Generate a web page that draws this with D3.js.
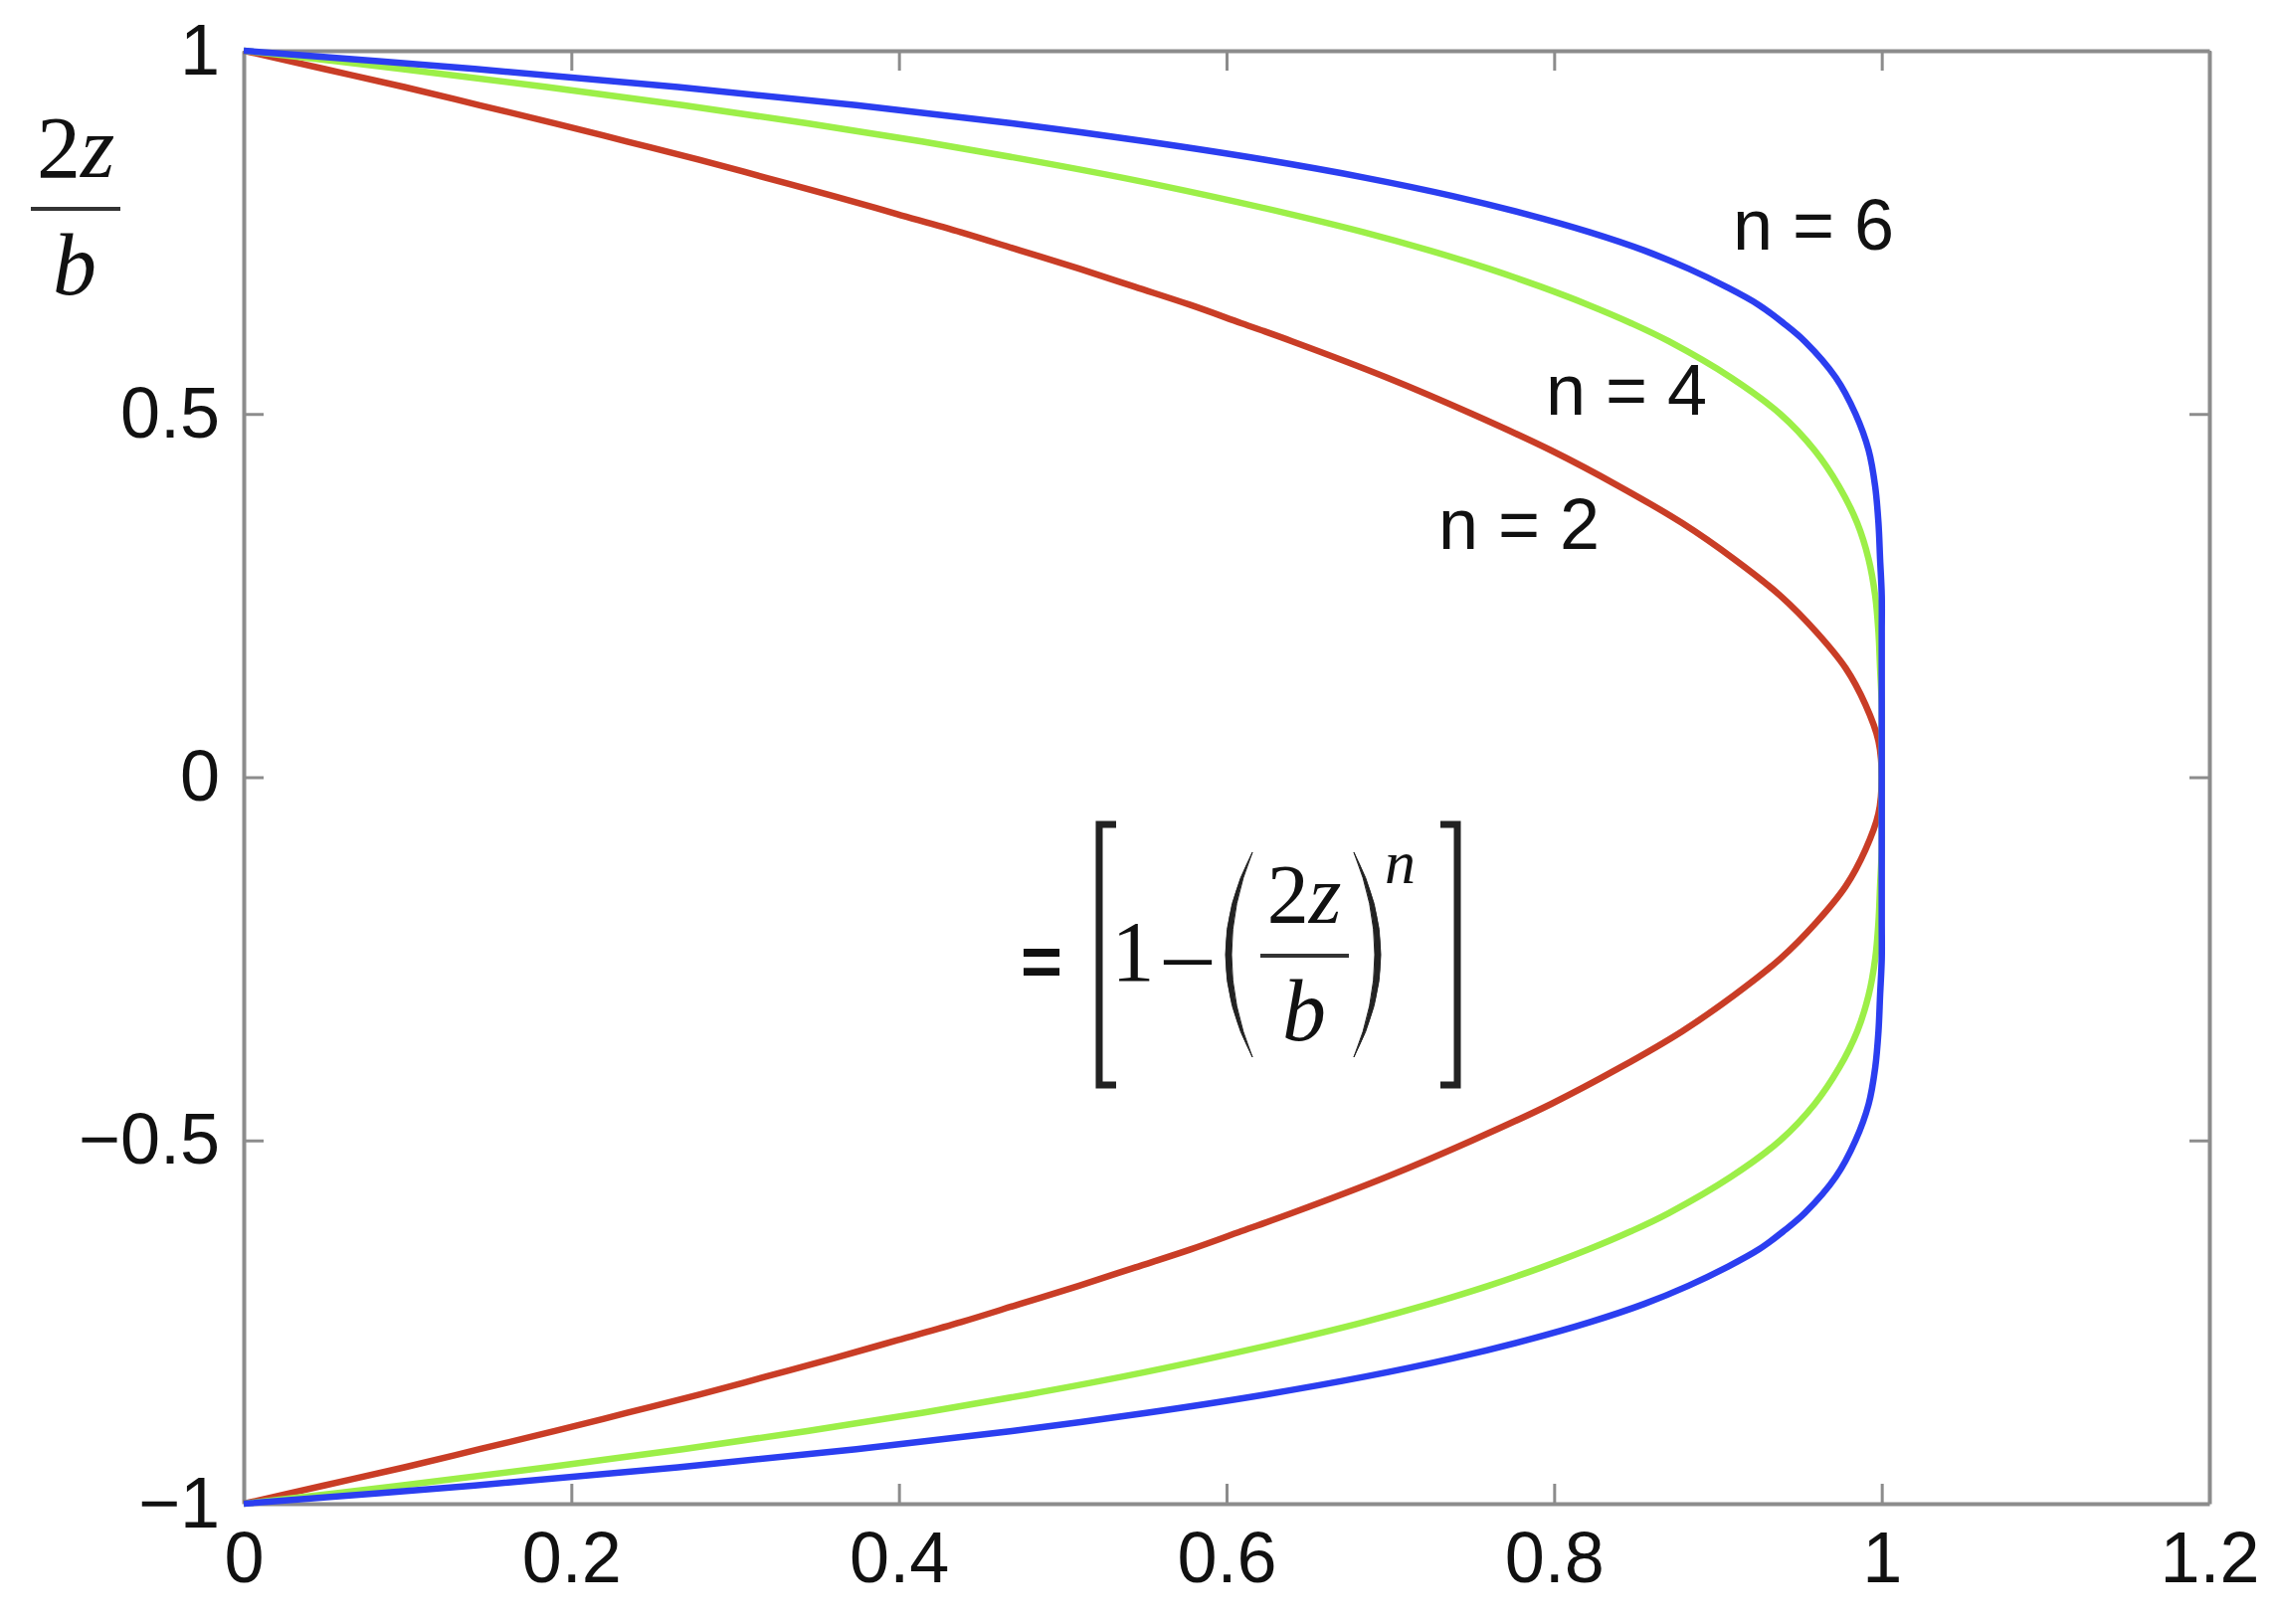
<!DOCTYPE html>
<html>
<head>
<meta charset="utf-8">
<script src="https://cdn.jsdelivr.net/npm/d3@7"></script>
<style>
	body { margin: 0; background: #fff; }
	.axis text { font-family: "Liberation Sans", Arial, sans-serif; font-size: 72px; fill: #111; }
	.axis path, .axis line { stroke: #8c8c8c; }
	.serif { font-family: "Liberation Serif", "Times New Roman", serif; fill: #111; }
	.lbl { font-family: "Liberation Sans", Arial, sans-serif; font-size: 72px; fill: #111; }
</style>
</head>
<body>
<div id="vis"></div>
<script>

var width = 2288,
	height = 1633;

// 2z/b positions
var zValues = [-1, -0.975, -0.95, -0.925, -0.9, -0.875, -0.85, -0.825, -0.8, -0.775, -0.75, -0.725, -0.7, -0.675, -0.65, -0.625, -0.6,
	-0.55, -0.5, -0.45, -0.4, -0.35, -0.3, -0.25, -0.2, -0.15, -0.1, -0.05, 0,
	0.05, 0.1, 0.15, 0.2, 0.25, 0.3, 0.35, 0.4, 0.45, 0.5, 0.55, 0.6,
	0.625, 0.65, 0.675, 0.7, 0.725, 0.75, 0.775, 0.8, 0.825, 0.85, 0.875, 0.9, 0.925, 0.95, 0.975, 1];

// profile value of each curve at those positions
var profileN2 = [0, 0.049, 0.098, 0.144, 0.19, 0.234, 0.278, 0.319, 0.36, 0.399, 0.438, 0.474, 0.51, 0.544, 0.578, 0.609, 0.64,
	0.698, 0.75, 0.798, 0.84, 0.878, 0.91, 0.938, 0.96, 0.978, 0.99, 0.998, 1,
	0.998, 0.99, 0.978, 0.96, 0.938, 0.91, 0.878, 0.84, 0.798, 0.75, 0.698, 0.64,
	0.609, 0.578, 0.544, 0.51, 0.474, 0.438, 0.399, 0.36, 0.319, 0.278, 0.234, 0.19, 0.144, 0.098, 0.049, 0];
var profileN4 = [0, 0.096, 0.185, 0.268, 0.344, 0.414, 0.478, 0.537, 0.59, 0.639, 0.684, 0.724, 0.76, 0.792, 0.821, 0.847, 0.87,
	0.908, 0.938, 0.959, 0.974, 0.985, 0.992, 0.996, 0.998, 0.999, 1, 1, 1,
	1, 1, 0.999, 0.998, 0.996, 0.992, 0.985, 0.974, 0.959, 0.938, 0.908, 0.87,
	0.847, 0.821, 0.792, 0.76, 0.724, 0.684, 0.639, 0.59, 0.537, 0.478, 0.414, 0.344, 0.268, 0.185, 0.096, 0];
var profileN6 = [0, 0.141, 0.265, 0.374, 0.469, 0.551, 0.623, 0.685, 0.738, 0.783, 0.822, 0.855, 0.882, 0.905, 0.925, 0.94, 0.953,
	0.972, 0.984, 0.992, 0.996, 0.998, 0.999, 1, 1, 1, 1, 1, 1,
	1, 1, 1, 1, 1, 0.999, 0.998, 0.996, 0.992, 0.984, 0.972, 0.953,
	0.94, 0.925, 0.905, 0.882, 0.855, 0.822, 0.783, 0.738, 0.685, 0.623, 0.551, 0.469, 0.374, 0.265, 0.141, 0];

var seriesNames = ["n = 2", "n = 4", "n = 6"];
var seriesColors = ["#c93d26", "#9cef48", "#2b3ef0"];

var xTicks = [0, 0.2, 0.4, 0.6, 0.8, 1, 1.2];
var xTickLabels = ["0", "0.2", "0.4", "0.6", "0.8", "1", "1.2"];
var yTicks = [-1, -0.5, 0, 0.5, 1];
var yTickLabels = ["\u22121", "\u22120.5", "0", "0.5", "1"];

var x = d3.scaleLinear().domain([0, 1.2]).range([245, 2221]),
	y = d3.scaleLinear().domain([-1, 1]).range([1512, 51]);

var svg = d3.select('#vis')
		.append('svg')
		.attr('width', width)
		.attr('height', height);

// box with inward ticks on all four sides
function styleAxis(g) {
	g.select('.domain').style('stroke-width', 4);
	g.selectAll('.tick line').style('stroke-width', 3);
}

svg.append('g')
	.attr('class', 'axis')
	.attr('transform', 'translate(0,' + y(-1) + ')')
	.call(d3.axisBottom(x).tickValues(xTicks).tickSizeInner(-20).tickSizeOuter(0).tickPadding(28)
		.tickFormat(function(d, i) { return xTickLabels[i]; }))
	.call(styleAxis);

svg.append('g')
	.attr('class', 'axis')
	.attr('transform', 'translate(0,' + y(1) + ')')
	.call(d3.axisTop(x).tickValues(xTicks).tickSizeInner(-20).tickSizeOuter(0).tickFormat(''))
	.call(styleAxis);

svg.append('g')
	.attr('class', 'axis')
	.attr('transform', 'translate(' + x(0) + ',0)')
	.call(d3.axisLeft(y).tickValues(yTicks).tickSizeInner(-20).tickSizeOuter(0).tickPadding(24)
		.tickFormat(function(d, i) { return yTickLabels[i]; }))
	.call(styleAxis);

svg.append('g')
	.attr('class', 'axis')
	.attr('transform', 'translate(' + x(1.2) + ',0)')
	.call(d3.axisRight(y).tickValues(yTicks).tickSizeInner(-20).tickSizeOuter(0).tickFormat(''))
	.call(styleAxis);

// curves
var profiles = [profileN2, profileN4, profileN6];

var line = d3.line()
	.x(function(d) { return x(d[0]); })
	.y(function(d) { return y(d[1]); })
	.curve(d3.curveCatmullRom.alpha(0.5));

svg.append('g')
	.selectAll('path')
	.data(profiles)
	.enter()
	.append('path')
	.attr('d', function(p) {
		return line(p.map(function(v, i) { return [v, zValues[i]]; }));
	})
	.style('fill', 'none')
	.style('stroke', function(d, i) { return seriesColors[i]; })
	.style('stroke-width', 6.5)
	.style('stroke-linejoin', 'round');

// curve labels
var labelPos = [[1446, 552], [1554, 417], [1742, 251]];

svg.selectAll('text.lbl')
	.data(seriesNames)
	.enter()
	.append('text')
	.attr('class', 'lbl')
	.attr('x', function(d, i) { return labelPos[i][0]; })
	.attr('y', function(d, i) { return labelPos[i][1]; })
	.text(function(d) { return d; });

// y axis label 2z / b
var ylab = svg.append('g');
var num = ylab.append('text')
	.attr('class', 'serif')
	.attr('x', 76)
	.attr('y', 178)
	.attr('text-anchor', 'middle')
	.style('font-size', '88px');
num.append('tspan').text('2');
num.append('tspan').style('font-style', 'italic').text('z');
ylab.append('line')
	.attr('x1', 31).attr('x2', 121)
	.attr('y1', 210).attr('y2', 210)
	.style('stroke', '#333')
	.style('stroke-width', 4);
ylab.append('text')
	.attr('class', 'serif')
	.attr('x', 75)
	.attr('y', 296)
	.attr('text-anchor', 'middle')
	.style('font-size', '88px')
	.style('font-style', 'italic')
	.text('b');

// formula  = [ 1 - (2z/b)^n ]
var f = svg.append('g');

f.append('text')
	.attr('class', 'lbl')
	.attr('x', 1026)
	.attr('y', 991)
	.style('font-weight', 'bold')
	.text('=');

f.append('path')
	.attr('d', 'M1122,829 H1105 V1091 H1122')
	.style('fill', 'none')
	.style('stroke', '#222')
	.style('stroke-width', 7);

f.append('path')
	.attr('d', 'M1448,829 H1465 V1091 H1448')
	.style('fill', 'none')
	.style('stroke', '#222')
	.style('stroke-width', 7);

f.append('text')
	.attr('class', 'serif')
	.attr('x', 1139)
	.attr('y', 986)
	.attr('text-anchor', 'middle')
	.style('font-size', '86px')
	.text('1');

f.append('text')
	.attr('class', 'serif')
	.attr('x', 1194)
	.attr('y', 989)
	.attr('text-anchor', 'middle')
	.style('font-size', '94px')
	.text('\u2013');

f.append('path')
	.attr('d', 'M1259,857 Q1205,960 1259,1063 Q1217,960 1259,857 Z')
	.style('fill', '#222')
	.style('stroke', '#222')
	.style('stroke-width', 1);

f.append('path')
	.attr('d', 'M1361,857 Q1415,960 1361,1063 Q1403,960 1361,857 Z')
	.style('fill', '#222')
	.style('stroke', '#222')
	.style('stroke-width', 1);

var fnum = f.append('text')
	.attr('class', 'serif')
	.attr('x', 1311)
	.attr('y', 928)
	.attr('text-anchor', 'middle')
	.style('font-size', '84px');
fnum.append('tspan').text('2');
fnum.append('tspan').style('font-style', 'italic').text('z');

f.append('line')
	.attr('x1', 1267).attr('x2', 1356)
	.attr('y1', 961).attr('y2', 961)
	.style('stroke', '#333')
	.style('stroke-width', 4);

f.append('text')
	.attr('class', 'serif')
	.attr('x', 1311)
	.attr('y', 1046)
	.attr('text-anchor', 'middle')
	.style('font-size', '88px')
	.style('font-style', 'italic')
	.text('b');

f.append('text')
	.attr('class', 'serif')
	.attr('x', 1392)
	.attr('y', 888)
	.style('font-size', '62px')
	.style('font-style', 'italic')
	.text('n');

</script>
</body>
</html>
